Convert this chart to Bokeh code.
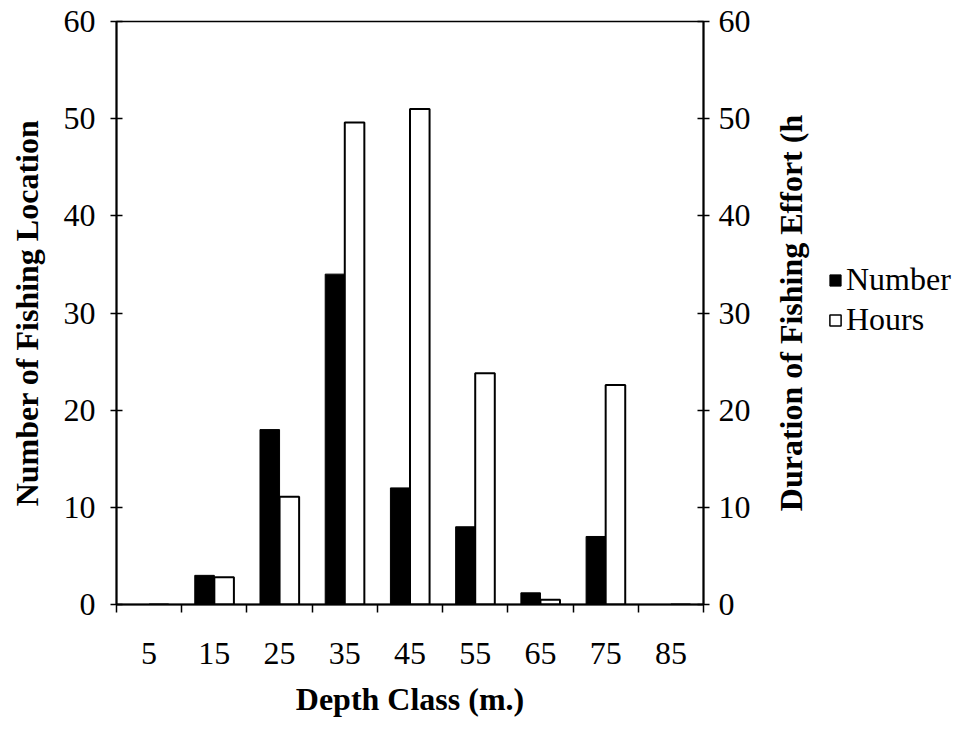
from bokeh.plotting import figure
from bokeh.models import (ColumnDataSource, Range1d, LinearAxis, FixedTicker,
                          Legend, LegendItem)
from bokeh.layouts import row
from bokeh.transform import dodge
from bokeh.embed import file_html
from bokeh.resources import INLINE

# ---- data ----
depths = [5, 15, 25, 35, 45, 55, 65, 75, 85]
number_locations = [0, 3, 18, 34, 12, 8, 1.2, 7, 0]
hours_effort = [0, 2.8, 11.1, 49.6, 51.0, 23.8, 0.5, 22.6, 0]
y_ticks = [0, 10, 20, 30, 40, 50, 60]
series_names = ["Number", "Hours"]
left_title = "Number of Fishing Location"
right_title = "Duration of Fishing Effort (h"
x_title = "Depth Class (m.)"

FONT = "Liberation Serif"
FS = "32px"
H = 725

src = ColumnDataSource(dict(depth=depths, number=number_locations, hours=hours_effort))

p = figure(width=753, height=H, output_backend="svg", toolbar_location=None,
           x_range=Range1d(0, 90), y_range=Range1d(0, 60),
           min_border_left=116, min_border_right=50, min_border_top=21,
           min_border_bottom=121)
p.xgrid.visible = False
p.ygrid.visible = False
p.outline_line_color = "black"
p.outline_line_width = 1.5
p.background_fill_color = "white"
p.border_fill_color = "white"

p.extra_y_ranges = {"hours": Range1d(0, 60)}

step = depths[1] - depths[0]
bounds = [d - step / 2 for d in depths] + [depths[-1] + step / 2]

r_num = p.vbar(x=dodge("depth", -1.5, range=p.x_range), top="number", width=3.0,
               source=src, fill_color="black", line_color="black", line_width=1)
r_hrs = p.vbar(x=dodge("depth", 1.5, range=p.x_range), top="hours", width=3.0,
               source=src, fill_color="white", line_color="black", line_width=2,
               y_range_name="hours")

# x axis
xa = p.xaxis[0]
xa.ticker = FixedTicker(ticks=depths, minor_ticks=bounds)
xa.major_tick_line_color = None
xa.major_tick_out = 0
xa.major_tick_in = 0
xa.minor_tick_line_color = "black"
xa.minor_tick_out = 8
xa.minor_tick_in = 0
xa.minor_tick_line_width = 1.5
xa.axis_line_width = 2
xa.major_label_standoff = 30
xa.major_label_text_font = FONT
xa.major_label_text_font_size = FS
xa.major_label_text_color = "black"
xa.axis_label = x_title
xa.axis_label_text_font = FONT
xa.axis_label_text_font_style = "bold"
xa.axis_label_text_font_size = FS
xa.axis_label_text_color = "black"
xa.axis_label_standoff = 14

# left y axis
ya = p.yaxis[0]
ya.ticker = FixedTicker(ticks=y_ticks)
ya.minor_tick_line_color = None
ya.major_tick_in = 6
ya.major_tick_out = 6
ya.major_tick_line_width = 1.5
ya.axis_line_width = 2
ya.major_label_standoff = 15
ya.major_label_text_font = FONT
ya.major_label_text_font_size = FS
ya.major_label_text_color = "black"
ya.axis_label = left_title
ya.axis_label_text_font = FONT
ya.axis_label_text_font_style = "bold"
ya.axis_label_text_font_size = FS
ya.axis_label_text_color = "black"
ya.axis_label_standoff = 16

# right y axis (ticks and labels)
ra = LinearAxis(y_range_name="hours", ticker=FixedTicker(ticks=y_ticks))
ra.minor_tick_line_color = None
ra.major_tick_in = 6
ra.major_tick_out = 6
ra.major_tick_line_width = 1.5
ra.axis_line_width = 2
ra.major_label_standoff = 9
ra.major_label_text_font = FONT
ra.major_label_text_font_size = FS
ra.major_label_text_color = "black"
p.add_layout(ra, "right")

# ---- side panel: right-axis title (reading upward) and legend ----
p2 = figure(width=958 - 753, height=H, output_backend="svg", toolbar_location=None,
            x_range=Range1d(0, 1), y_range=Range1d(0, 60),
            x_axis_location=None, y_axis_location="left",
            min_border_left=60, min_border_right=0, min_border_top=21,
            min_border_bottom=121)
p2.xgrid.visible = False
p2.ygrid.visible = False
p2.outline_line_color = None
p2.background_fill_color = "white"
p2.border_fill_color = "white"
ta = p2.yaxis[0]
ta.ticker = FixedTicker(ticks=[])
ta.axis_line_color = None
ta.major_tick_line_color = None
ta.minor_tick_line_color = None
ta.major_tick_out = 0
ta.major_tick_in = 0
ta.major_label_standoff = 0
ta.axis_label = right_title
ta.axis_label_text_font = FONT
ta.axis_label_text_font_style = "bold"
ta.axis_label_text_font_size = FS
ta.axis_label_text_color = "black"
ta.axis_label_standoff = 5

# legend proxies (one NaN row: nothing is drawn, only the legend swatch)
nan = float("nan")
proxy = ColumnDataSource(dict(x=[nan], top=[nan]))
d_num = p2.vbar(x="x", top="top", width=0.1, source=proxy,
                fill_color="black", line_color="black", line_width=1)
d_hrs = p2.vbar(x="x", top="top", width=0.1, source=proxy,
                fill_color="white", line_color="black", line_width=1.5)

legend = Legend(items=[LegendItem(label=series_names[0], renderers=[d_num], index=0),
                       LegendItem(label=series_names[1], renderers=[d_hrs], index=0)],
                location=(15, 266), orientation="vertical",
                glyph_width=14, glyph_height=14, label_height=28, spacing=3,
                label_standoff=4, padding=0, margin=0,
                border_line_color=None, background_fill_alpha=0,
                label_text_font=FONT, label_text_font_size=FS,
                label_text_color="black")
p2.add_layout(legend, "center")

layout = row(p, p2, spacing=0)
open("out.html", "w").write(file_html(layout, INLINE))
